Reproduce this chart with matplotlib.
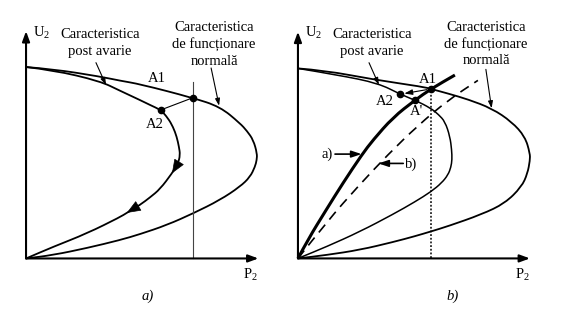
import matplotlib.pyplot as plt
from matplotlib.path import Path
from matplotlib.patches import PathPatch

plt.rcParams['font.family'] = ['Liberation Serif', 'DejaVu Serif']
plt.rcParams['mathtext.fontset'] = 'custom'
plt.rcParams['mathtext.rm'] = 'Liberation Serif'
plt.rcParams['mathtext.it'] = 'Liberation Serif:italic'

# --- panel a) : P2-U2 characteristics (relative units) ---
norm_a_p = [0.000, 0.142, 0.389, 0.495, 0.600, 0.877, 1.021, 1.126, 1.163, 1.196, 1.216,
            1.214, 1.205, 1.179, 1.126, 1.021, 0.881, 0.741, 0.600, 0.495, 0.321, 0.142, 0.000]
norm_a_u = [1.008, 0.997, 0.958, 0.936, 0.918, 0.846, 0.799, 0.712, 0.671, 0.624, 0.553,
            0.518, 0.483, 0.429, 0.378, 0.308, 0.238, 0.176, 0.128, 0.097, 0.055, 0.018, 0.000]

post_a_p = [0.000, 0.142, 0.389, 0.495, 0.600, 0.653, 0.709, 0.747, 0.774, 0.793, 0.805, 0.811,
            0.800, 0.768, 0.705, 0.653, 0.600, 0.530, 0.495, 0.321, 0.142, 0.000]
post_a_u = [1.008, 0.992, 0.934, 0.883, 0.834, 0.808, 0.782, 0.739, 0.692, 0.641, 0.587, 0.545,
            0.500, 0.448, 0.365, 0.322, 0.282, 0.240, 0.218, 0.132, 0.061, 0.000]

# operating points a)
pts_a_p = [0.877, 0.709]   # A1, A2
pts_a_u = [0.846, 0.782]
load_a_p = 0.88      # constant load line
load_a_top = 0.93

# --- panel b) ---
norm_b_p = [0.000, 0.142, 0.395, 0.658, 0.700, 0.789, 0.895, 1.021, 1.125, 1.195, 1.221,
            1.221, 1.208, 1.177, 1.089, 0.967, 0.791, 0.700, 0.616, 0.500, 0.326, 0.151, 0.000]
norm_b_u = [1.000, 0.989, 0.942, 0.903, 0.892, 0.868, 0.837, 0.789, 0.719, 0.641, 0.553,
            0.516, 0.447, 0.377, 0.290, 0.232, 0.170, 0.142, 0.117, 0.086, 0.045, 0.018, 0.000]

post_b_p = [0.000, 0.212, 0.423, 0.538, 0.616, 0.700, 0.740, 0.774, 0.800, 0.809, 0.811,
            0.805, 0.790, 0.756, 0.700, 0.616, 0.500, 0.326, 0.151, 0.000]
post_b_u = [1.000, 0.965, 0.922, 0.864, 0.833, 0.790, 0.757, 0.720, 0.641, 0.571, 0.520,
            0.480, 0.440, 0.397, 0.351, 0.298, 0.232, 0.141, 0.062, 0.000]

# load characteristics a) (solid) and b) (dashed)
load_sol_p = [0.000, 0.053, 0.147, 0.237, 0.337, 0.395, 0.500, 0.616, 0.700, 0.826]
load_sol_u = [0.000, 0.100, 0.253, 0.397, 0.547, 0.623, 0.742, 0.833, 0.892, 0.965]
load_dash_p = [0.000, 0.158, 0.316, 0.474, 0.632, 0.789, 0.947]
load_dash_u = [0.000, 0.200, 0.379, 0.547, 0.700, 0.832, 0.937]

pts_b_p = [0.700, 0.538, 0.616]   # A1, A2, A'
pts_b_u = [0.892, 0.864, 0.833]

FS = 10.5
LW = 1.3

fig = plt.figure(figsize=(5.75, 3.16), dpi=100)
axa = fig.add_axes([0, 0, 0.5, 1])
axb = fig.add_axes([0.5, 0, 0.5, 1])
axa.set_xlim(-0.137, 1.376)
axa.set_ylim(-0.303, 1.361)
axb.set_xlim(-0.055, 1.458)
axb.set_ylim(-0.303, 1.360)


def smooth_curve(ax, xs, ys, **kw):
    # quadratic bezier through the midpoints of the read points
    pts = list(zip(xs, ys))
    verts = [pts[0]]
    codes = [Path.MOVETO]
    for i in range(1, len(pts) - 1):
        mid = ((pts[i][0] + pts[i + 1][0]) / 2, (pts[i][1] + pts[i + 1][1]) / 2)
        verts += [pts[i], mid]
        codes += [Path.CURVE3, Path.CURVE3]
    verts.append(pts[-1])
    codes.append(Path.LINETO)
    ax.add_patch(PathPatch(Path(verts, codes), fill=False, edgecolor='black',
                           capstyle='butt', joinstyle='round', **kw))


def axes_arrows(ax, xtip, ytip):
    style = '-|>,head_length=0.6,head_width=0.22'
    for tip in [(xtip, 0), (0, ytip)]:
        ax.annotate('', xy=tip, xytext=(0, 0),
                    arrowprops=dict(arrowstyle=style, lw=1.5, color='black',
                                    mutation_scale=10, shrinkA=0, shrinkB=0))
    ax.axis('off')


def pointer(ax, start, end, lw=0.8, scale=7):
    ax.annotate('', xy=end, xytext=start,
                arrowprops=dict(arrowstyle='-|>,head_length=0.6,head_width=0.2', lw=lw,
                                color='black', mutation_scale=scale, shrinkA=0, shrinkB=0))


def labels(ax, capt, cx):
    ax.text(0.08, 1.185, r'U$_{2}$', fontsize=FS, ha='center', va='center')
    ax.text(0.39, 1.178, 'Caracteristica', fontsize=FS, ha='center', va='center')
    ax.text(0.39, 1.090, 'post avarie', fontsize=FS, ha='center', va='center')
    ax.text(0.99, 1.217, 'Caracteristica', fontsize=FS, ha='center', va='center')
    ax.text(0.99, 1.129, 'de funcționare', fontsize=FS, ha='center', va='center')
    ax.text(0.99, 1.039, 'normală', fontsize=FS, ha='center', va='center')
    ax.text(1.18, -0.085, r'P$_{2}$', fontsize=FS, ha='center', va='center')
    ax.text(cx, -0.198, capt, fontsize=FS, ha='center', va='center', style='italic')


# ---------------- a) ----------------
axes_arrows(axa, 1.223, 1.197)
smooth_curve(axa, norm_a_p, norm_a_u, lw=LW)
smooth_curve(axa, post_a_p, post_a_u, lw=LW)
axa.plot([load_a_p, load_a_p], [0, load_a_top], color='#444444', lw=0.8)
axa.plot(pts_a_p, pts_a_u, color='black', lw=0.8)
axa.plot(pts_a_p, pts_a_u, 'o', color='black', ms=4.5)
axa.text(0.689, 0.950, 'A1', fontsize=FS, ha='center', va='center')
axa.text(0.679, 0.703, 'A2', fontsize=FS, ha='center', va='center')
# direction arrows on the post-fault curve
for i in [12, 16]:
    axa.annotate('', xy=(post_a_p[i + 1], post_a_u[i + 1]), xytext=(post_a_p[i], post_a_u[i]),
                 arrowprops=dict(arrowstyle='-|>,head_length=0.75,head_width=0.3', lw=0.5,
                                 color='black', mutation_scale=12, shrinkA=0, shrinkB=0))
pointer(axa, (0.368, 1.031), (0.421, 0.913))
pointer(axa, (0.974, 1.003), (1.016, 0.804))
labels(axa, 'a)', 0.642)

# ---------------- b) ----------------
axes_arrows(axb, 1.221, 1.193)
smooth_curve(axb, norm_b_p, norm_b_u, lw=LW)
smooth_curve(axb, post_b_p, post_b_u, lw=1.1)
smooth_curve(axb, load_sol_p, load_sol_u, lw=2.2)
smooth_curve(axb, load_dash_p, load_dash_u, lw=1.2, linestyle=(0, (6, 4)))
axb.plot([pts_b_p[0], pts_b_p[0]], [0, pts_b_u[0]], color='black', lw=1.1, dashes=(1.2, 1.2))
axb.annotate('', xy=(pts_b_p[1], pts_b_u[1]), xytext=(pts_b_p[0], pts_b_u[0]),
             arrowprops=dict(arrowstyle='-|>,head_length=0.6,head_width=0.2', lw=0.8,
                             color='black', mutation_scale=8, shrinkA=3, shrinkB=3))
axb.plot(pts_b_p, pts_b_u, 'o', color='black', ms=4.5)
axb.text(0.684, 0.939, 'A1', fontsize=FS, ha='center', va='center')
axb.text(0.458, 0.825, 'A2', fontsize=FS, ha='center', va='center')
axb.text(0.624, 0.773, "A'", fontsize=FS, ha='center', va='center')
axb.text(0.155, 0.548, 'a)', fontsize=FS, ha='center', va='center')
axb.text(0.598, 0.495, 'b)', fontsize=FS, ha='center', va='center')
pointer(axb, (0.195, 0.549), (0.335, 0.549), lw=1.2, scale=10)
pointer(axb, (0.554, 0.500), (0.423, 0.500), lw=1.2, scale=10)
pointer(axb, (0.374, 1.030), (0.426, 0.913))
pointer(axb, (0.989, 0.995), (1.019, 0.790))
labels(axb, 'b)', 0.816)

fig.savefig('out.png', dpi=100)
